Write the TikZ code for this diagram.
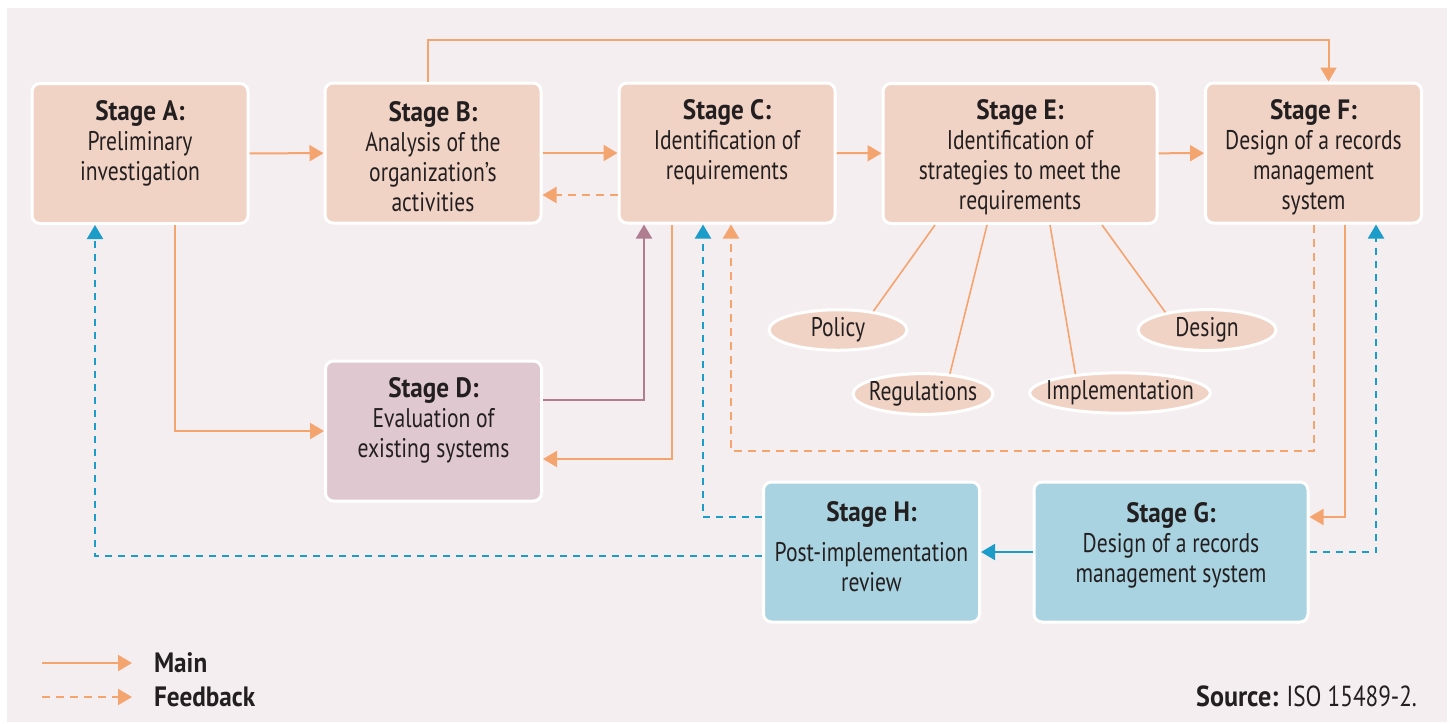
\documentclass[tikz,border=0pt]{standalone}
\usepackage{fontspec}
\setmainfont{PT Sans}[FakeStretch=0.8, BoldFeatures={FakeStretch=0.9}]
\usetikzlibrary{arrows.meta,shapes.geometric,positioning}

\definecolor{bgpink}{HTML}{F5EEF1}
\definecolor{salmon}{HTML}{F1D3C5}
\definecolor{mauvebox}{HTML}{DFC8CF}
\definecolor{bluebox}{HTML}{A9D3E0}
\definecolor{orangeline}{HTML}{F4A46E}
\definecolor{mauveline}{HTML}{B07C90}
\definecolor{blueline}{HTML}{1B9CC9}
\definecolor{txt}{HTML}{231F20}

% stage title, #1 = height of the first line
\newcommand{\stg}[2][10pt]{\rule{0pt}{#1}{\fontsize{14}{15}\selectfont\bfseries #2}}

\begin{document}
\begin{tikzpicture}[x=0.5pt,y=-0.5pt,
    every node/.style={font=\fontsize{13.5}{15}\selectfont, text=txt},
    stagebox/.style={draw=white, line width=1.5pt, fill=salmon, rounded corners=4pt,
        minimum width=108pt, minimum height=70pt, align=center, inner sep=2pt},
    widebox/.style={stagebox, minimum width=137pt},
    topic/.style={ellipse, draw=white, line width=1.5pt, fill=salmon,
        minimum width=69pt, minimum height=20pt, inner xsep=-5pt, inner ysep=1pt},
    mainline/.style={draw=orangeline, line width=1pt, -{Triangle[length=7pt,width=8pt]}},
    backline/.style={mainline, dash pattern=on 4pt off 3pt},
    blueline/.style={draw=blueline, line width=1pt, -{Triangle[length=7pt,width=8pt]}},
    bluedash/.style={blueline, dash pattern=on 3.5pt off 3pt}]
    \useasboundingbox (0,0) rectangle (1450,723);
    \fill[bgpink] (7,8) rectangle (1447,722);

    % stages
    \node[stagebox] (A) at (140,153.5)
        {\stg{Stage A:}\\Preliminary\\investigation\\[-6pt]\strut};
    \node[stagebox] (B) at (433,153)
        {\stg[14pt]{Stage B:}\\Analysis of the\\organization’s\\activities};
    \node[stagebox] (C) at (727,153)
        {\stg{Stage C:}\\Identification of\\requirements\\[-6pt]\strut};
    \node[widebox] (E) at (1020,153.5)
        {\stg[14pt]{Stage E:}\\Identification of\\strategies to meet the\\requirements};
    \node[stagebox] (F) at (1313.5,153)
        {\stg[14pt]{Stage F:}\\Design of a records\\management\\system};
    \node[stagebox, fill=mauvebox] (D) at (433.5,431)
        {\stg{Stage D:}\\Evaluation of\\existing systems\\[-6pt]\strut};
    \node[stagebox, fill=bluebox] (H) at (871.5,552)
        {\stg{Stage H:}\\[5pt]Post-implementation\\review\\[-14pt]\strut};
    \node[widebox, fill=bluebox] (G) at (1171,552)
        {\stg{Stage G:}\\Design of a records\\management system\\[-10pt]\strut};

    % strategies
    \node[topic] (pol) at (838,330) {Policy};
    \node[topic, minimum width=70pt] (reg) at (923,394) {Regulations};
    \node[topic, minimum width=90pt] (imp) at (1120,393) {Implementation};
    \node[topic] (des) at (1207,330) {Design};
    \draw[orangeline, line width=0.8pt] ([xshift=-42.5pt]E.south) -- (pol.28);
    \draw[orangeline, line width=0.8pt] ([xshift=-16.5pt]E.south) -- (reg.37);
    \draw[orangeline, line width=0.8pt] ([xshift=15pt]E.south) -- (imp.157);
    \draw[orangeline, line width=0.8pt] ([xshift=41pt]E.south) -- (des.157);

    % main flow
    \draw[mainline] (A) -- (B);
    \draw[mainline] (B) -- (C);
    \draw[mainline] (C) -- (E);
    \draw[mainline] (E) -- (F);
    \coordinate (top) at (0,40);
    \draw[mainline] ([xshift=-2.5pt]B.north) -- ([xshift=-2.5pt]B.north |- top)
        -| ([xshift=7.5pt]F.north);
    \draw[mainline] ([xshift=17.5pt]A.south) |- (D.west);
    \draw[mainline, draw=mauveline] ([yshift=15.5pt]D.east) -| ([xshift=-41.5pt]C.south);
    \draw[mainline] ([xshift=-27.5pt]C.south) |- ([yshift=-14pt]D.east);
    \draw[mainline] ([xshift=15.75pt]F.south) |- ([yshift=17.5pt]G.east);
    \draw[blueline] (G) -- (H);

    % feedback
    \draw[backline] ([yshift=-21pt]C.west) -- ([yshift=-21pt]B.east);
    \coordinate (fb) at (0,451);
    \draw[backline] (F.south) -- (F.south |- fb) -| ([xshift=2pt]C.south);
    \draw[bluedash] (G.east) -| ([xshift=31.25pt]F.south);
    \draw[bluedash] ([yshift=17.5pt]H.west) -| ([xshift=-12pt]C.south);
    \draw[bluedash] ([yshift=-2pt]H.west) -| ([xshift=-22.5pt]A.south);

    % legend
    \coordinate (lm0) at (42,663);
    \coordinate (lm1) at (132,663);
    \coordinate (lf0) at (42,697);
    \coordinate (lf1) at (132,697);
    \draw[mainline] (lm0) -- (lm1);
    \draw[backline] (lf0) -- (lf1);
    \node[anchor=west, font=\fontsize{14}{15}\selectfont\bfseries] (lmain) at (147,663) {Main};
    \node[anchor=west, font=\fontsize{14}{15}\selectfont\bfseries] (lfeed) at (147,697) {Feedback};
    \node[anchor=east, font=\fontsize{14.5}{15}\selectfont] (src) at (1424,696)
        {\textbf{Source:} ISO 15489-2.};
\end{tikzpicture}
\end{document}
